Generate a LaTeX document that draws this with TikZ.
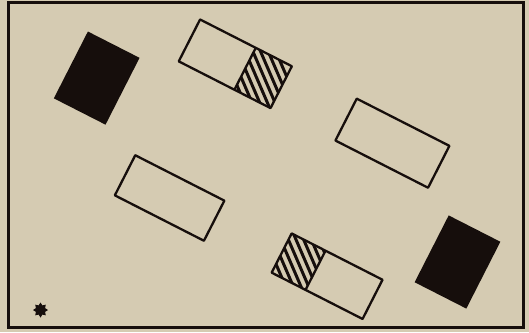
\documentclass[tikz,border=0pt]{standalone}
\usetikzlibrary{shapes.geometric}
\definecolor{paper}{RGB}{213,203,178}
\definecolor{ink}{RGB}{22,14,12}

\begin{document}
\begin{tikzpicture}[x=1pt, y=1pt,
  card/.style={draw=ink, line width=2.3pt, line join=round},
  block/.style={fill=ink},
  hatch/.style={draw=ink, line width=3pt}]
  % Paper and frame
  \fill[paper] (0,0) rectangle (529,332);
  \useasboundingbox (0,0) rectangle (529,332);
  \draw[ink, line width=3pt] (8,5) rectangle (523,329);
  % Solid blocks
  \begin{scope}[shift={(96.7,253.9)}, rotate=-27]
    \fill[block] (-29,-37.5) rectangle (29,37.5);
  \end{scope}
  \begin{scope}[shift={(457.5,70)}, rotate=-27]
    \fill[block] (-29,-37.5) rectangle (29,37.5);
  \end{scope}
  % Empty cards
  \begin{scope}[shift={(392.4,188.8)}, rotate=-27]
    \draw[card] (-52,-23.5) rectangle (52,23.5);
  \end{scope}
  \begin{scope}[shift={(169.6,134)}, rotate=-27]
    \draw[card] (-50,-22.5) rectangle (50,22.5);
  \end{scope}
  % Half-hatched card, top
  \begin{scope}[shift={(235.3,268.2)}, rotate=-27]
    \begin{scope}
      \clip (11,-23.5) rectangle (51.5,23.5);
      \foreach \d in {-66,-55,...,66}
        \draw[hatch] (\d-35,29) -- (\d+35,-29);
    \end{scope}
    \draw[card] (-51.5,-23.5) rectangle (51.5,23.5);
    \draw[card] (11,-23.5) -- (11,23.5);
  \end{scope}
  % Half-hatched card, bottom
  \begin{scope}[shift={(327.1,55.8)}, rotate=-27]
    \begin{scope}
      \clip (-51,-22) rectangle (-13,22);
      \foreach \d in {-66,-55,...,66}
        \draw[hatch] (\d-35,29) -- (\d+35,-29);
    \end{scope}
    \draw[card] (-51,-22) rectangle (51,22);
    \draw[card] (-13,-22) -- (-13,22);
  \end{scope}
  % Asterisk
  \node[star, star points=8, star point ratio=1.5, fill=ink,
    minimum size=15pt, inner sep=0pt] (asterisk) at (40.5,22) {};
\end{tikzpicture}
\end{document}
